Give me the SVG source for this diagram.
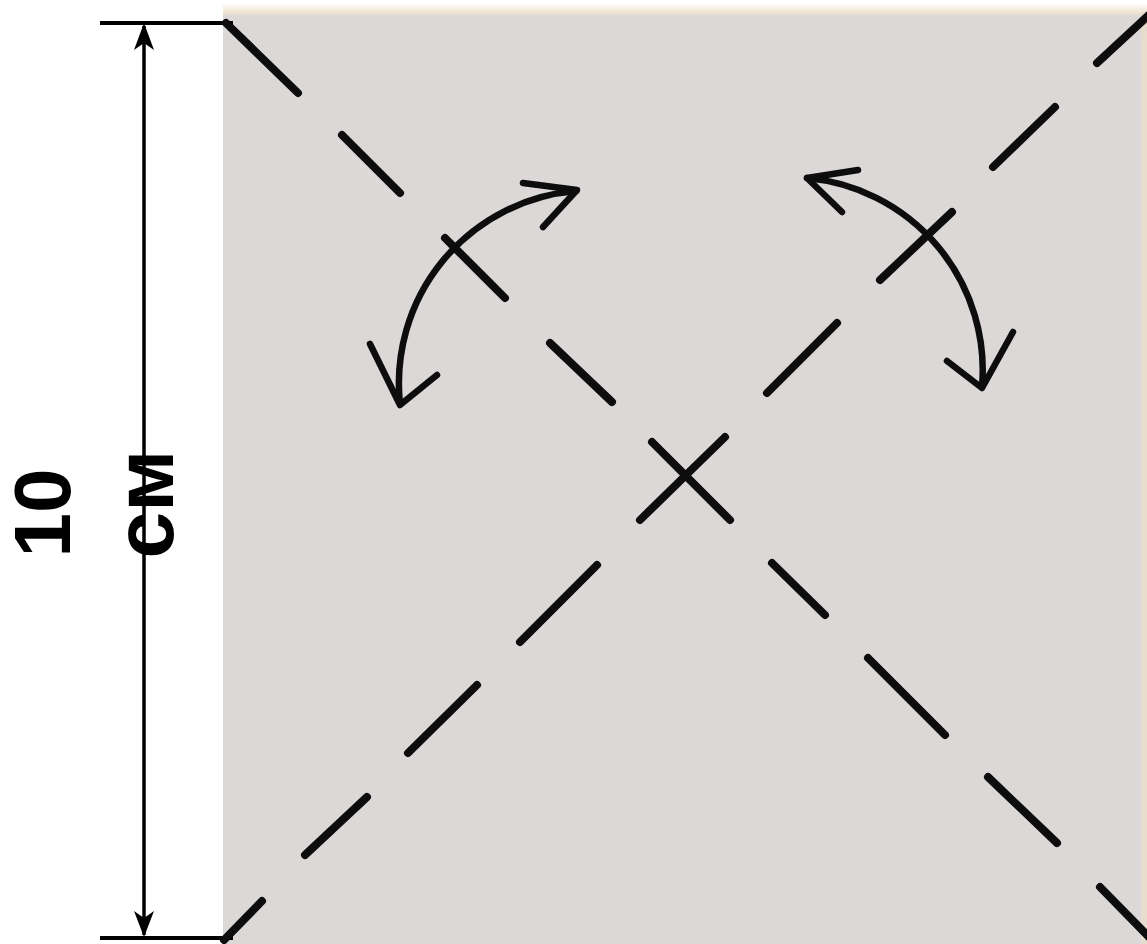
<svg xmlns="http://www.w3.org/2000/svg" width="1147" height="944" viewBox="0 0 1147 944">
  <style>
    .ink { stroke: #0d0d0d; fill: none; stroke-linecap: round; stroke-linejoin: round; }
    .crease { stroke-width: 8; }
    .arc { stroke-width: 6.5; }
    .dim { stroke: #000; fill: none; }
    .lbl { font-family: "Liberation Sans", Arial, sans-serif; font-weight: bold; fill: #000; text-anchor: middle; }
  </style>
  <defs>
    <linearGradient id="topEdge" x1="0" y1="0" x2="0" y2="1">
      <stop offset="0" stop-color="#fdfbf7"/>
      <stop offset="0.6" stop-color="#efe4d3"/>
      <stop offset="1" stop-color="#dcd6d2"/>
    </linearGradient>
  </defs>

  <rect x="0" y="0" width="1147" height="944" fill="#ffffff"/>

  <g id="paper">
    <rect x="223" y="4" width="924" height="14" fill="url(#topEdge)"/>
    <rect x="223" y="15" width="920" height="929" fill="#dcd8d7"/>
    <rect x="1141" y="12" width="6" height="932" fill="#e7dccd"/>
  </g>

  <g id="dimension">
    <line class="dim" x1="100" y1="23" x2="233" y2="23" stroke-width="4"/>
    <line class="dim" x1="100" y1="938" x2="233" y2="938" stroke-width="4"/>
    <line class="dim" x1="144" y1="26" x2="144" y2="935" stroke-width="3.5"/>
    <path d="M144 23 L154 50 L144 43 L134 50 Z" fill="#000"/>
    <path d="M144 937 L154 911 L144 918 L134 911 Z" fill="#000"/>
  </g>

  <g id="label">
    <text class="lbl" font-size="80" transform="translate(70 513) rotate(-90)">10</text>
    <text class="lbl" font-size="84" transform="translate(173 504) rotate(-90)">см</text>
  </g>

  <g id="crease-diagonal-1" class="ink crease">
    <line x1="226" y1="23" x2="298" y2="93"/>
    <line x1="342" y1="135" x2="400" y2="193"/>
    <line x1="445" y1="238" x2="505" y2="298"/>
    <line x1="550" y1="343" x2="612" y2="402"/>
    <line x1="652" y1="442" x2="730" y2="520"/>
    <line x1="772" y1="563" x2="825" y2="615"/>
    <line x1="868" y1="658" x2="945" y2="735"/>
    <line x1="988" y1="777" x2="1057" y2="843"/>
    <line x1="1100" y1="887" x2="1150" y2="938"/>
  </g>

  <g id="crease-diagonal-2" class="ink crease">
    <line x1="224" y1="940" x2="262" y2="901"/>
    <line x1="305" y1="855" x2="367" y2="797"/>
    <line x1="408" y1="753" x2="477" y2="685"/>
    <line x1="520" y1="642" x2="597" y2="565"/>
    <line x1="640" y1="520" x2="725" y2="437"/>
    <line x1="767" y1="393" x2="837" y2="323"/>
    <line x1="880" y1="280" x2="952" y2="212"/>
    <line x1="993" y1="167" x2="1055" y2="107"/>
    <line x1="1097" y1="63" x2="1150" y2="14"/>
  </g>

  <g id="connectors">
    <g id="arrow-left" class="ink arc">
      <path d="M400 404 A193 193 0 0 1 576 191"/>
      <polyline points="370,344 400,405 437,375"/>
      <polyline points="523,183 577,190 543,227"/>
    </g>
    <g id="arrow-right" class="ink arc">
      <path d="M807 178 A193 193 0 0 1 982 387"/>
      <polyline points="858,170 807,178 842,212"/>
      <polyline points="947,361 982,388 1013,332"/>
    </g>
  </g>
</svg>
